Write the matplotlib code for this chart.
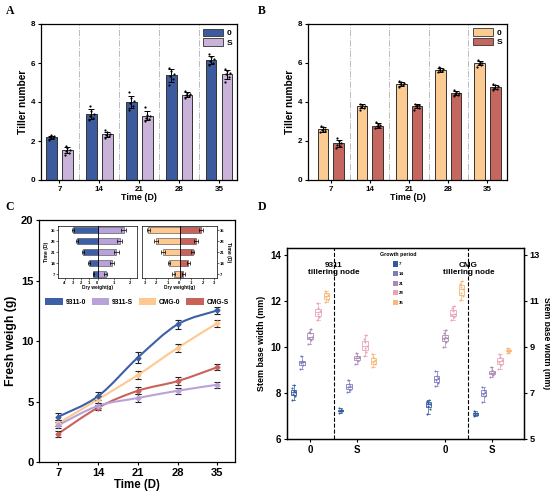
import numpy as np
import matplotlib
matplotlib.use("Agg")
import matplotlib.pyplot as plt
from matplotlib.patches import Patch, PathPatch
from matplotlib.path import Path

plt.rcParams['font.family'] = ['Liberation Sans', 'DejaVu Sans']
plt.rcParams['font.weight'] = 'bold'
plt.rcParams['axes.labelweight'] = 'bold'

W, H = 550, 499
fig = plt.figure(figsize=(5.5, 4.99), dpi=100)

def px_axes(l, t, r, b):
    return fig.add_axes([l / W, 1 - b / H, (r - l) / W, (b - t) / H])

# ---------------- data ----------------
days = ["7", "14", "21", "28", "35"]
days_num = [7, 14, 21, 28, 35]

# Panel A: 9311 tiller number (individual plants)
A_0 = [[2.05, 2.15, 2.2, 2.25, 2.3, 2.2],
       [3.1, 3.2, 3.3, 3.4, 3.55, 3.8],
       [3.6, 3.8, 3.95, 4.05, 4.2, 4.5],
       [4.85, 5.2, 5.35, 5.45, 5.6, 5.75],
       [5.9, 6.0, 6.1, 6.2, 6.3, 6.45]]
A_S = [[1.3, 1.4, 1.5, 1.55, 1.65, 1.75],
       [2.15, 2.25, 2.3, 2.35, 2.45, 2.55],
       [3.05, 3.15, 3.2, 3.3, 3.35, 3.75],
       [4.2, 4.3, 4.35, 4.4, 4.45, 4.55],
       [5.05, 5.3, 5.45, 5.5, 5.6, 5.7]]
# Panel B: CMG tiller number
B_0 = [[2.45, 2.5, 2.55, 2.6, 2.7, 2.75],
       [3.6, 3.7, 3.75, 3.8, 3.85, 3.9],
       [4.75, 4.85, 4.9, 4.95, 5.0, 5.05],
       [5.5, 5.55, 5.6, 5.65, 5.7, 5.8],
       [5.8, 5.9, 5.95, 6.0, 6.05, 6.15]]
B_S = [[1.65, 1.75, 1.8, 1.9, 2.0, 2.15],
       [2.65, 2.7, 2.75, 2.8, 2.85, 2.95],
       [3.6, 3.7, 3.8, 3.85, 3.85, 3.9],
       [4.3, 4.35, 4.4, 4.45, 4.5, 4.6],
       [4.6, 4.65, 4.7, 4.8, 4.85, 4.9]]

# Panel C: fresh weight
fw_labels = ["9311-0", "9311-S", "CMG-0", "CMG-S"]
fw_9311_0 = [3.75, 5.45, 8.65, 11.4, 12.55]
fw_9311_S = [3.05, 4.65, 5.3, 5.9, 6.4]
fw_CMG_0 = [3.2, 5.2, 7.2, 9.45, 11.5]
fw_CMG_S = [2.35, 4.5, 5.9, 6.7, 7.85]
fw_err_9311_0 = [0.3, 0.35, 0.45, 0.4, 0.3]
fw_err_9311_S = [0.25, 0.2, 0.3, 0.25, 0.25]
fw_err_CMG_0 = [0.25, 0.3, 0.35, 0.35, 0.3]
fw_err_CMG_S = [0.25, 0.2, 0.3, 0.3, 0.25]

# Panel C inset: dry weight
dw_9311_0 = [0.49, 0.99, 1.73, 2.47, 3.0]
dw_9311_S = [0.5, 0.86, 1.15, 1.35, 1.59]
dw_CMG_0 = [0.51, 0.91, 1.43, 2.05, 2.7]
dw_CMG_S = [0.34, 0.77, 1.14, 1.43, 1.85]
dw_err = [0.1, 0.12, 0.15, 0.15, 0.15]

# Panel D: stem base width
D_9311_0 = [[7.7, 7.85, 7.95, 8.05, 8.1, 8.2, 8.35],
            [9.05, 9.2, 9.3, 9.35, 9.4, 9.6],
            [10.15, 10.3, 10.4, 10.45, 10.6, 10.65, 10.8],
            [11.15, 11.3, 11.45, 11.55, 11.7, 11.9],
            [11.95, 12.05, 12.15, 12.25, 12.35, 12.45]]
D_9311_S = [[7.15, 7.2, 7.22, 7.25, 7.28, 7.35],
            [8.05, 8.15, 8.25, 8.3, 8.4, 8.55],
            [9.25, 9.4, 9.5, 9.55, 9.6, 9.75],
            [9.6, 9.8, 9.95, 10.05, 10.2, 10.35, 10.5],
            [9.15, 9.25, 9.35, 9.45, 9.55, 9.7]]
D_CMG_0 = [[6.1, 6.3, 6.45, 6.5, 6.55, 6.65, 6.7],
           [7.3, 7.45, 7.55, 7.65, 7.75, 7.95],
           [9.0, 9.2, 9.35, 9.4, 9.45, 9.6, 9.75],
           [10.15, 10.3, 10.4, 10.45, 10.55, 10.7, 10.8],
           [11.05, 11.2, 11.35, 11.5, 11.6, 11.75, 11.85]]
D_CMG_S = [[6.0, 6.05, 6.1, 6.12, 6.15, 6.2],
           [6.6, 6.85, 6.95, 7.05, 7.15, 7.25],
           [7.7, 7.8, 7.85, 7.9, 8.0, 8.15],
           [8.05, 8.2, 8.35, 8.45, 8.55, 8.7],
           [8.75, 8.8, 8.82, 8.85, 8.9, 8.95]]
D_groups = ["0", "S", "0", "S"]

# ---------------- styles ----------------
c_blue, c_lav = "#3B5B9E", "#C9B3D9"
c_peach, c_red = "#FBCB91", "#C5675F"
c_l_blue, c_l_lav, c_l_peach, c_l_red = "#3C5FA8", "#B9A2DA", "#FDC990", "#C9625B"
period_cols = ["#2F5A9B", "#7E7CC0", "#A98BB5", "#E9A3B7", "#F9B676"]
jit = [-0.07, 0.05, -0.03, 0.07, 0.0, -0.05, 0.03]


def style_ax(ax, fs, pad=1.5):
    for s in ax.spines.values():
        s.set_linewidth(0.9)
    ax.tick_params(labelsize=fs, width=0.8, length=2.5, pad=pad)
    for t in ax.get_xticklabels() + ax.get_yticklabels():
        t.set_fontweight('bold')


def bar_panel(ax, d0, dS, col0, colS, xlim):
    x = np.arange(len(days))
    w, off = 0.27, 0.2
    for data, col, sgn in ((d0, col0, -1), (dS, colS, 1)):
        means = [np.mean(v) for v in data]
        sds = [np.std(v, ddof=1) for v in data]
        ax.bar(x + sgn * off, means, width=w, color=col, edgecolor="#333333",
               linewidth=0.7, zorder=2)
        ax.errorbar(x + sgn * off, means, yerr=sds, fmt='none', ecolor='black',
                    elinewidth=0.7, capsize=2, capthick=0.7, zorder=4)
        for i, v in enumerate(data):
            ax.scatter(x[i] + sgn * off + np.array(jit[:len(v)]) * 0.9, v, s=2.5,
                       color='black', zorder=5, linewidths=0)
    for s in np.arange(0.5, len(days) - 0.5, 1):
        ax.axvline(s, color='#bbbbbb', ls='-.', lw=0.7, zorder=0)
    ax.set_xlim(*xlim)
    ax.set_ylim(0, 8)
    ax.set_yticks([0, 2, 4, 6, 8])
    ax.set_xticks(x)
    ax.set_xticklabels(days)
    ax.set_xlabel("Time (D)", fontsize=6.4, labelpad=0.3)
    ax.set_ylabel("Tiller number", fontsize=7.3, labelpad=2)
    style_ax(ax, 5.8)
    leg = ax.legend(handles=[Patch(facecolor=col0, edgecolor='#333333', lw=0.6, label="0"),
                             Patch(facecolor=colS, edgecolor='#333333', lw=0.6, label="S")],
                    loc='upper right', frameon=False, fontsize=6, handlelength=2.4,
                    handleheight=1.0, borderaxespad=0.15, labelspacing=0.15, handletextpad=0.5)
    for t in leg.get_texts():
        t.set_fontweight('bold')


# ---------------- Panel A ----------------
axA = px_axes(41, 24, 237, 180)
bar_panel(axA, A_0, A_S, c_blue, c_lav, (-0.46, 4.45))

# ---------------- Panel B ----------------
axB = px_axes(308, 23.5, 507, 180)
bar_panel(axB, B_0, B_S, c_peach, c_red, (-0.58, 4.5))

# ---------------- Panel C ----------------
axC = px_axes(39, 220.5, 235, 462)


def smooth_path(xs, ys):
    pts = np.column_stack([xs, ys]).astype(float)
    n = len(pts)
    verts = [pts[0]]
    codes = [Path.MOVETO]
    for i in range(n - 1):
        p0 = pts[i - 1] if i > 0 else pts[i]
        p1, p2 = pts[i], pts[i + 1]
        p3 = pts[i + 2] if i + 2 < n else pts[i + 1]
        verts += [p1 + (p2 - p0) / 6, p2 - (p3 - p1) / 6, p2]
        codes += [Path.CURVE4] * 3
    return Path(verts, codes)


series = [(fw_9311_0, fw_err_9311_0, c_l_blue),
          (fw_9311_S, fw_err_9311_S, c_l_lav),
          (fw_CMG_0, fw_err_CMG_0, c_l_peach),
          (fw_CMG_S, fw_err_CMG_S, c_l_red)]
for vals, err, col in series[::-1]:
    axC.add_patch(PathPatch(smooth_path(days_num, vals), fill=False, edgecolor=col, lw=1.5, zorder=3))
    axC.errorbar(days_num, vals, yerr=err, fmt='D', ms=2.5, color=col, ecolor='#222222',
                 elinewidth=0.8, capsize=2, capthick=0.8, zorder=4, mec=col)
axC.set_xlim(3.6, 38.1)
axC.set_ylim(0, 20)
axC.set_xticks(days_num)
axC.set_yticks([0, 5, 10, 15, 20])
axC.set_xlabel("Time (D)", fontsize=8.3, labelpad=1)
axC.set_ylabel("Fresh weigh (g)", fontsize=8.8, labelpad=3)
style_ax(axC, 8)
legC = axC.legend(handles=[Patch(facecolor=c, edgecolor='none', label=l)
                           for c, l in zip([c_l_blue, c_l_lav, c_l_peach, c_l_red], fw_labels)],
                  loc='center', bbox_to_anchor=(0.5, 0.662), ncol=4, frameon=False,
                  fontsize=4.8, handlelength=2.6, handleheight=1.1, columnspacing=0.9,
                  handletextpad=0.4)
for t in legC.get_texts():
    t.set_fontweight('bold')

# insets
yy = np.arange(len(days))


def inset(ax, neg, pos, cneg, cpos):
    ax.barh(yy, [-v for v in neg], height=0.55, color=cneg, edgecolor='#444444', lw=0.4,
            xerr=dw_err, error_kw=dict(elinewidth=0.5, capsize=1.2, capthick=0.5))
    ax.barh(yy, pos, height=0.55, color=cpos, edgecolor='#444444', lw=0.4,
            xerr=dw_err, error_kw=dict(elinewidth=0.5, capsize=1.2, capthick=0.5))
    ax.axvline(0, color='black', lw=0.6)
    ax.set_ylim(-0.35, 4.45)
    ax.set_yticks(yy)
    ax.set_yticklabels(days)
    ax.set_xlabel("Dry weight(g)", fontsize=3.4, labelpad=0.5)
    ax.tick_params(labelsize=3, width=0.4, length=1.2, pad=0.8)
    for s in ax.spines.values():
        s.set_linewidth(0.5)
    for t in ax.get_xticklabels() + ax.get_yticklabels():
        t.set_fontweight('bold')


axI1 = px_axes(58, 225.5, 137, 278)
axI1.set_xscale('function', functions=(lambda x: np.where(x < 0, x / 2, x),
                                       lambda x: np.where(x < 0, x * 2, x)))
inset(axI1, dw_9311_0, dw_9311_S, c_l_blue, c_l_lav)
axI1.set_xlim(-4.8, 2.4)
axI1.set_xticks([-4, -3, -2, -1, 0, 1, 2])
axI1.set_xticklabels(["4", "3", "2", "1", "0", "1", "2"])
axI1.set_ylabel("Time (D)", fontsize=3.6, labelpad=0.8)
for t in axI1.get_xticklabels():
    t.set_fontweight('bold')

axI2 = px_axes(142, 225.5, 217, 278)
inset(axI2, dw_CMG_0, dw_CMG_S, c_l_peach, c_l_red)
axI2.set_xlim(-3.25, 3.25)
axI2.set_xticks([-3, -2, -1, 0, 1, 2, 3])
axI2.set_xticklabels(["3", "2", "1", "0", "1", "2", "3"])
axI2.yaxis.tick_right()
axI2.yaxis.set_label_position('right')
axI2.set_ylabel("Time (D)", fontsize=3.6, labelpad=1.2, rotation=270, va='bottom')
for t in axI2.get_xticklabels() + axI2.get_yticklabels():
    t.set_fontweight('bold')

# ---------------- Panel D ----------------
axD = px_axes(287, 248, 524.3, 439)
axD2 = axD.twinx()
gpos = [0.0, 1.0, 2.87, 3.87]
boff = 0.175
for gi, (data, ax) in enumerate([(D_9311_0, axD), (D_9311_S, axD), (D_CMG_0, axD2), (D_CMG_S, axD2)]):
    for k, v in enumerate(data):
        xc = gpos[gi] + (k - 2) * boff
        col = period_cols[k]
        ax.boxplot([v], positions=[xc], widths=0.12, showfliers=False, patch_artist=True,
                   boxprops=dict(facecolor='white', edgecolor=col, lw=0.6),
                   medianprops=dict(color=col, lw=0.6),
                   whiskerprops=dict(color=col, lw=0.5),
                   capprops=dict(color=col, lw=0.5), zorder=2)
        ax.scatter(xc + np.array(jit[:len(v)]) * 0.5, v, s=2.2, color=col, zorder=3, linewidths=0)
axD.axvline(0.5, color='black', ls='--', lw=0.8)
axD.axvline(3.37, color='black', ls='--', lw=0.8)
axD.set_xlim(-0.49, 4.56)
axD.set_ylim(6, 14.3)
axD2.set_ylim(5, 13.3)
axD.set_yticks([6, 8, 10, 12, 14])
axD2.set_yticks([5, 7, 9, 11, 13])
axD.set_xticks(gpos)
axD.set_xticklabels(D_groups)
axD.set_ylabel("Stem base width (mm)", fontsize=6.4, labelpad=3)
axD2.set_ylabel("Stem base width (mm)", fontsize=6.2, labelpad=2, rotation=270, va='bottom')
style_ax(axD, 7)
style_ax(axD2, 6.6, pad=1.0)
axD.text(0.5, 13.4, "9311\ntillering node", ha='center', va='center', fontsize=5.9,
         fontweight='bold', linespacing=1.05)
axD.text(3.37, 13.4, "CMG\ntillering node", ha='center', va='center', fontsize=5.9,
         fontweight='bold', linespacing=1.05)
legD = axD.legend(handles=[Patch(facecolor=c, edgecolor='none', label=l)
                           for c, l in zip(period_cols, days)],
                  title="Growth period", loc='upper center', bbox_to_anchor=(0.47, 1.0),
                  frameon=False, fontsize=3.2, title_fontsize=3.8, handlelength=1.1,
                  handleheight=1.4, labelspacing=1.0, handletextpad=0.3)
legD.get_title().set_fontweight('bold')
for t in legD.get_texts():
    t.set_fontweight('bold')

# panel letters
for lab, x, y in [("A", 10, 11), ("B", 262, 11), ("C", 10, 207), ("D", 262, 207)]:
    fig.text(x / W, 1 - y / H, lab, fontsize=8.5, fontweight='bold',
             family='Liberation Serif', ha='center', va='center')

fig.savefig("out.png", dpi=100)
